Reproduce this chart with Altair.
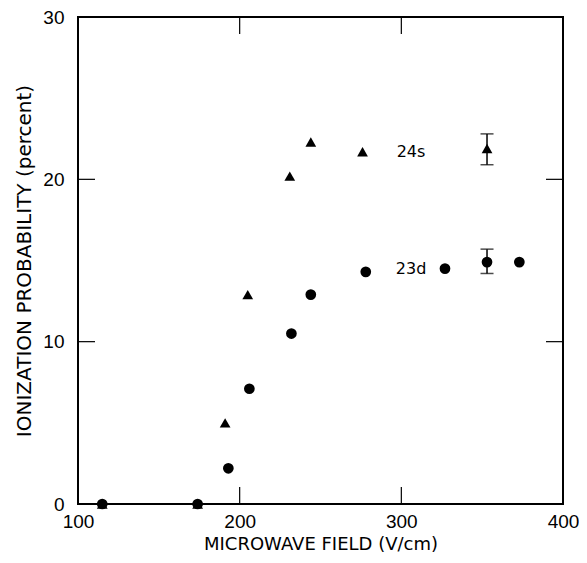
import altair as alt
import pandas as pd

# ---- data ----
x_24s = [115, 174, 191, 205, 231, 244, 276, 353]
y_24s = [0.0, 0.0, 5.0, 12.9, 20.2, 22.3, 21.7, 21.9]
x_23d = [115, 174, 193, 206, 232, 244, 278, 327, 353, 373]
y_23d = [0.0, 0.0, 2.2, 7.1, 10.5, 12.9, 14.3, 14.5, 14.9, 14.9]

err_x = [353, 353]
err_lo = [20.9, 14.2]
err_hi = [22.8, 15.7]

label_text = ["24s", "23d"]
label_x = [306, 306]
label_y = [21.7, 14.5]

x_ticks = [100, 200, 300, 400]
y_ticks = [0, 10, 20, 30]
x_inner_ticks = [200, 300]
y_inner_ticks = [10, 20]

W, H = 485, 487
TICK = 17
NUMFONT = "Liberation Sans"
TFONT = "DejaVu Sans"

df24 = pd.DataFrame({"x": x_24s, "y": y_24s})
df23 = pd.DataFrame({"x": x_23d, "y": y_23d})
dferr = pd.DataFrame({"x": err_x, "lo": err_lo, "hi": err_hi})
dflab = pd.DataFrame({"t": label_text, "x": label_x, "y": label_y})
dfxt = pd.DataFrame({"v": x_inner_ticks})
dfyt = pd.DataFrame({"v": y_inner_ticks})

xs = alt.Scale(domain=[100, 400], nice=False, zero=False)
ys = alt.Scale(domain=[0, 30], nice=False, zero=False)

xax = alt.Axis(values=x_ticks, tickSize=0, domain=False, grid=False,
               labelFontSize=19, labelPadding=8, labelFont=NUMFONT, labelColor="black",
               title="MICROWAVE FIELD (V/cm)", titleFontSize=18, titleFont=TFONT,
               titleFontWeight="normal", titleColor="black", titlePadding=4,
               labelFlush=False)
yax = alt.Axis(values=y_ticks, tickSize=0, domain=False, grid=False,
               labelFontSize=19, labelPadding=14, labelFont=NUMFONT, labelColor="black",
               title="IONIZATION PROBABILITY (percent)", titleFontSize=20, titleFont=TFONT,
               titleFontWeight="normal", titleColor="black", titlePadding=8,
               labelFlush=False)

base_x = alt.X("x:Q", scale=xs, axis=xax)
base_y = alt.Y("y:Q", scale=ys, axis=yax)

tri = alt.Chart(df24).mark_point(shape="triangle-up", filled=True, color="black",
                                 size=115, opacity=1).encode(x=base_x, y=base_y)
circ = alt.Chart(df23).mark_circle(color="black", size=115, opacity=1).encode(
    x=alt.X("x:Q", scale=xs), y=alt.Y("y:Q", scale=ys))

err_rule = alt.Chart(dferr).mark_rule(color="black", strokeWidth=1.5).encode(
    x=alt.X("x:Q", scale=xs), y=alt.Y("lo:Q", scale=ys), y2="hi:Q")
err_cap_lo = alt.Chart(dferr).mark_tick(color="black", orient="horizontal",
                                         size=13, thickness=1.5).encode(
    x=alt.X("x:Q", scale=xs), y=alt.Y("lo:Q", scale=ys))
err_cap_hi = alt.Chart(dferr).mark_tick(color="black", orient="horizontal",
                                         size=13, thickness=1.5).encode(
    x=alt.X("x:Q", scale=xs), y=alt.Y("hi:Q", scale=ys))

labels = alt.Chart(dflab).mark_text(font=TFONT, fontSize=16, color="black",
                                    align="center", baseline="middle").encode(
    x=alt.X("x:Q", scale=xs), y=alt.Y("y:Q", scale=ys), text="t:N")

xt_bottom = alt.Chart(dfxt).mark_rule(color="black", strokeWidth=1.2).encode(
    x=alt.X("v:Q", scale=xs), y=alt.value(H - TICK), y2=alt.value(H))
xt_top = alt.Chart(dfxt).mark_rule(color="black", strokeWidth=1.2).encode(
    x=alt.X("v:Q", scale=xs), y=alt.value(0), y2=alt.value(TICK))
yt_left = alt.Chart(dfyt).mark_rule(color="black", strokeWidth=1.2).encode(
    y=alt.Y("v:Q", scale=ys), x=alt.value(0), x2=alt.value(TICK))
yt_right = alt.Chart(dfyt).mark_rule(color="black", strokeWidth=1.2).encode(
    y=alt.Y("v:Q", scale=ys), x=alt.value(W - TICK), x2=alt.value(W))

chart = alt.layer(
    tri, circ, err_rule, err_cap_lo, err_cap_hi, labels,
    xt_bottom, xt_top, yt_left, yt_right
).properties(
    width=W, height=H,
    autosize=alt.AutoSizeParams(type="none"),
    padding={"left": 70, "top": 9, "right": 16, "bottom": 50},
    background="white",
).configure_view(stroke="black", strokeWidth=2)

chart.save("out.html", embed_options={"renderer": "svg", "actions": False})
